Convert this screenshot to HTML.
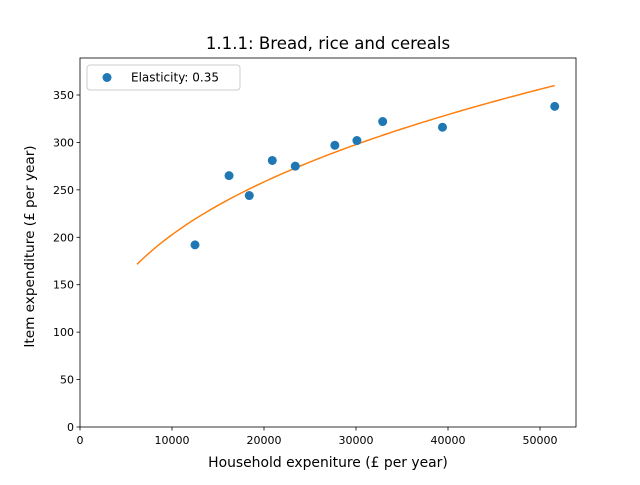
<!DOCTYPE html>
<html><head><meta charset="utf-8"><style>
body{margin:0;background:#fff;}
svg text{font-family:"DejaVu Sans","Liberation Sans",sans-serif;fill:#000;}
</style></head><body>
<svg id="chart" width="640" height="480" xmlns="http://www.w3.org/2000/svg">
<rect width="640" height="480" fill="#fff"/>
<text x="328" y="49" font-size="16.6" text-anchor="middle">1.1.1: Bread, rice and cereals</text>
<g id="plot"></g>
<text x="328" y="467" font-size="13.9" text-anchor="middle">Household expeniture (£ per year)</text>
<text transform="translate(34,246.5) rotate(-90)" font-size="13.6" text-anchor="middle">Item expenditure (£ per year)</text>
</svg>
<script>
const xs=[12500,16200,18400,20900,23400,27700,30100,32900,39400,51600];
const ys=[192,265,244,281,275,297,302,322,316,338];
const elasticity=0.35;
const curveStart=6200, curveEnd=51600, curveEndValue=360;
const xTicks=[0,10000,20000,30000,40000,50000];
const yTicks=[0,50,100,150,200,250,300,350];
const L=80,R=576,T=58,B=427,xMax=53913,yMax=389;
const sx=v=>L+(R-L)*v/xMax, sy=v=>B-(B-T)*v/yMax;
const ns="http://www.w3.org/2000/svg", g=document.getElementById('plot');
function mk(t,a){const e=document.createElementNS(ns,t);for(const k in a)e.setAttribute(k,a[k]);g.appendChild(e);return e;}
xTicks.forEach(v=>{
 const l=mk('line',{x1:sx(v),x2:sx(v),y1:B,y2:B+3.5,stroke:'#000','stroke-width':0.8});
 
 
 const t=mk('text',{x:sx(v),y:B+17,'font-size':11,'text-anchor':'middle'});t.textContent=v;
 
 
});
yTicks.forEach(v=>{
 const l=mk('line',{x1:L-3.5,x2:L,y1:sy(v),y2:sy(v),stroke:'#000','stroke-width':0.8});
 
 
 const t=mk('text',{x:L-6,y:sy(v)+4,'font-size':11,'text-anchor':'end'});t.textContent=v;
 
 
});
const A=curveEndValue/Math.pow(curveEnd,elasticity);
let d='';for(let i=0;i<=100;i++){const x=curveStart+(curveEnd-curveStart)*i/100;d+=(i?'L':'M')+sx(x)+','+sy(A*Math.pow(x,elasticity));}
const c=mk('path',{d:d,fill:'none',stroke:'#ff7f0e','stroke-width':1.5});


xs.forEach((x,i)=>{const p=mk('circle',{cx:sx(x),cy:sy(ys[i]),r:4.5,fill:'#1f77b4'});
 
 });
const f=mk('rect',{x:L,y:T,width:R-L,height:B-T,fill:'none',stroke:'#000','stroke-width':0.8});


const lb=mk('rect',{x:87,y:65,width:153,height:25,rx:3,fill:'#fff',stroke:'#ccc','stroke-width':1});


const lm=mk('circle',{cx:107,cy:77.5,r:4.5,fill:'#1f77b4'});


const lt=mk('text',{x:131,y:81.5,'font-size':12});lt.textContent='Elasticity: '+elasticity;


</script>
</body></html>
